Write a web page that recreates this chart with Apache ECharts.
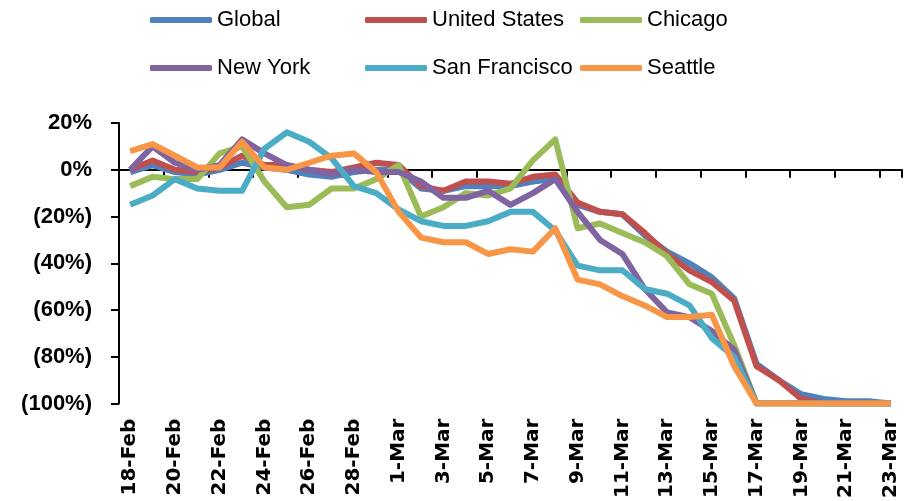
<!DOCTYPE html>
<html>
<head>
<meta charset="utf-8">
<script src="https://cdn.jsdelivr.net/npm/echarts@6/dist/echarts.min.js"></script>
<style>
  html, body { margin: 0; padding: 0; background: #fff; }
  #main { width: 907px; height: 501px; }
</style>
</head>
<body>
<div id="main"></div>
<script>
// days from 18-Feb to 23-Mar (2020, leap year)
var days = ['18-Feb', '19-Feb', '20-Feb', '21-Feb', '22-Feb', '23-Feb', '24-Feb', '25-Feb', '26-Feb', '27-Feb', '28-Feb', '29-Feb',
    '1-Mar', '2-Mar', '3-Mar', '4-Mar', '5-Mar', '6-Mar', '7-Mar', '8-Mar', '9-Mar', '10-Mar', '11-Mar', '12-Mar',
    '13-Mar', '14-Mar', '15-Mar', '16-Mar', '17-Mar', '18-Mar', '19-Mar', '20-Mar', '21-Mar', '22-Mar', '23-Mar'];

// percent change
var globalVals = [-1, 2, -1, -2, 0, 3, 1, 0, -2, -3, -1, 0,
    0, -8, -9, -7, -7, -7, -5, -4, -15, -18, -19, -28,
    -35, -40, -46, -55, -83, -90, -96, -98, -99, -99, -100];
var usVals = [0, 4, 0, -1, 1, 6, 2, 2, 0, -1, 1, 3,
    2, -7, -9, -5, -5, -6, -3, -2, -14, -18, -19, -27,
    -36, -43, -48, -56, -84, -90, -98, -100, -100, -100, -100];
var chicagoVals = [-7, -3, -4, -4, 7, 10, -5, -16, -15, -8, -8, -4,
    2, -20, -16, -10, -11, -8, 4, 13, -25, -23, -27, -31,
    -37, -49, -53, -75, -100, -100, -100, -100, -100, -100, -100];
var nyVals = [0, 10, 3, 0, 2, 13, 7, 2, 0, -2, 0, -1,
    -1, -5, -12, -12, -9, -15, -10, -4, -18, -30, -36, -51,
    -61, -63, -69, -77, -100, -100, -100, -100, -100, -100, -100];
var sfVals = [-15, -11, -4, -8, -9, -9, 9, 16, 12, 5, -7, -10,
    -17, -22, -24, -24, -22, -18, -18, -26, -41, -43, -43, -51,
    -53, -58, -72, -80, -100, -100, -100, -100, -100, -100, -100];
var seattleVals = [8, 11, 6, 1, 1, 12, 1, 0, 3, 6, 7, -1,
    -18, -29, -31, -31, -36, -34, -35, -25, -47, -49, -54, -58,
    -63, -63, -62, -84, -100, -100, -100, -100, -100, -100, -100];

var yTicks = [20, 0, -20, -40, -60, -80, -100];

var names = ['Global', 'United States', 'Chicago', 'New York', 'San Francisco', 'Seattle'];
var colors = ['#4F81BD', '#C0504D', '#9BBB59', '#8064A2', '#4BACC6', '#F79646'];
var allVals = [globalVals, usVals, chicagoVals, nyVals, sfVals, seattleVals];

var chart = echarts.init(document.getElementById('main'));

function pctLabel(v) {
    var n = Math.round(v);
    if (n < 0) return '(' + (-n) + '%)';
    return n + '%';
}

var legendFont = {
    fontFamily: '"Liberation Sans", Arial, sans-serif',
    fontSize: 22,
    color: '#000'
};

function makeLegend(left, data) {
    return {
        orient: 'vertical',
        left: left,
        top: 9,
        padding: 0,
        itemGap: 26,
        itemWidth: 62,
        itemHeight: 6,
        icon: 'roundRect',
        data: data,
        textStyle: legendFont,
        selectedMode: false
    };
}

var series = [];
for (var i = 0; i < names.length; i++) {
    series.push({
        name: names[i],
        type: 'line',
        data: allVals[i],
        symbol: 'none',
        silent: true,
        lineStyle: { width: 6, color: colors[i], join: 'round' },
        itemStyle: { color: colors[i] },
        animation: false
    });
}

var option = {
    backgroundColor: '#fff',
    color: colors,
    legend: [
        makeLegend(150, ['Global', 'New York']),
        makeLegend(365, ['United States', 'San Francisco']),
        makeLegend(580, ['Chicago', 'Seattle'])
    ],
    grid: {
        left: 119,
        right: 5,
        top: 123,
        bottom: 96,
        containLabel: false
    },
    xAxis: {
        type: 'category',
        data: days,
        boundaryGap: true,
        axisLine: { lineStyle: { color: '#000', width: 2 } },
        axisTick: { show: true, interval: 1, length: 8, lineStyle: { color: '#000', width: 2 } },
        axisLabel: {
            interval: 1,
            rotate: 90,
            margin: 15,
            color: '#000',
            fontWeight: 'bold',
            fontSize: 20,
            fontFamily: '"DejaVu Sans", sans-serif'
        },
        splitLine: { show: false }
    },
    yAxis: {
        type: 'value',
        min: yTicks[yTicks.length - 1],
        max: yTicks[0],
        interval: 20,
        axisLine: { show: true, lineStyle: { color: '#000', width: 2 } },
        axisTick: { show: true, length: 8, lineStyle: { color: '#000', width: 2 } },
        axisLabel: {
            formatter: pctLabel,
            margin: 27,
            color: '#000',
            fontWeight: 'bold',
            fontSize: 22,
            fontFamily: '"Liberation Sans", Arial, sans-serif'
        },
        splitLine: { show: false }
    },
    series: series
};

chart.setOption(option);
</script>
</body>
</html>
